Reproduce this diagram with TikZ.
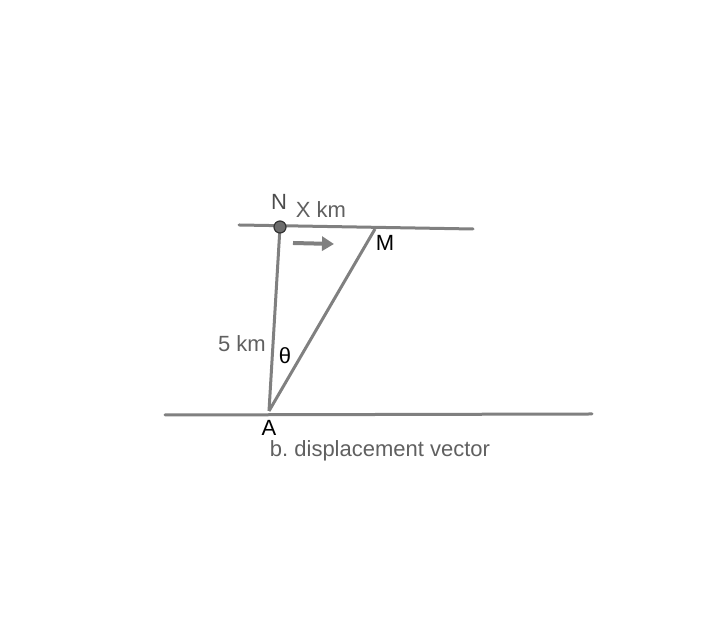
\documentclass[tikz,border=0pt]{standalone}
\usepackage{fontspec}
\setmainfont{Liberation Sans}
\usetikzlibrary{arrows.meta}
\frenchspacing
\definecolor{linegray}{RGB}{128,128,128}
\definecolor{textgray}{RGB}{96,96,96}
\tikzset{
  road/.style={linegray, line width=3pt, line cap=round},
  side/.style={linegray, line width=3pt},
  lbl/.style={font=\fontsize{22}{26}\selectfont, inner sep=0pt},
  greylbl/.style={lbl, textgray}
}

\begin{document}
\begin{tikzpicture}[x=1pt,y=1pt]
\useasboundingbox (0,0) rectangle (702,620);
\coordinate (topL) at (239,395);
\coordinate (topR) at (473,391);
\coordinate (botL) at (165,205);
\coordinate (botR) at (592,206);
\coordinate (N) at (280,393);
\coordinate (M) at (375,391);
\coordinate (A) at (269,209);
\coordinate (arrS) at (293,377);
\coordinate (arrE) at (334,376);

\draw[road] (topL) -- (topR);
\draw[road] (botL) -- (botR);
\draw[side] (N) -- (A);
\draw[side] (A) -- (M);
\draw[linegray, line width=4pt, -{Triangle[length=12pt,width=14pt]}] (arrS) -- (arrE);
\filldraw[fill=gray!85!black, draw=black!80, line width=1.2pt] (N) circle (6pt);

\node[greylbl, text=black!70] (labN) at (279,418) {N};
\node[greylbl] (labX) at (321,410) {X km};
\node[lbl] (labM) at (385,377) {M};
\node[greylbl] (lab5) at (242,276) {5 km};
\node[lbl] (labT) at (285,264) {θ};
\node[lbl] (labA) at (269,192) {A};
\node[greylbl] (caption) at (380,169) {b. displacement vector};
\end{tikzpicture}
\end{document}
